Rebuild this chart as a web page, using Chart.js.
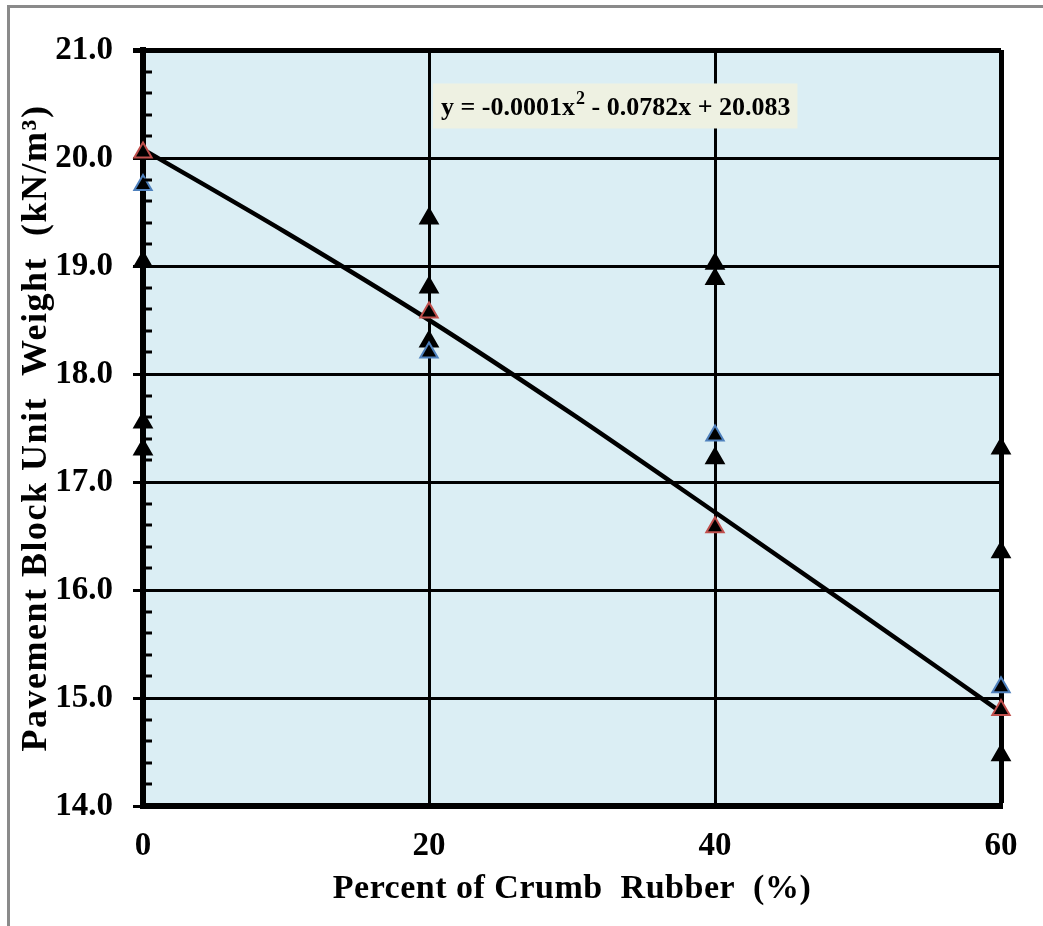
<!DOCTYPE html>
<html>
<head>
<meta charset="utf-8">
<script src="https://cdn.jsdelivr.net/npm/chart.js@4"></script>
<style>
    html, body { margin: 0; padding: 0; background: #fff; overflow: hidden; }
    #wrap { position: relative; width: 1043px; height: 926px; }
    #frame {
        position: absolute; left: 7px; top: 5px; width: 2000px; height: 2000px;
        border-left: 3px solid #8a8a8a; border-top: 3px solid #8a8a8a;
        pointer-events: none;
    }
</style>
</head>
<body>
<div id="wrap">
    <canvas id="chart" width="1043" height="926"></canvas>
    <div id="frame"></div>
</div>
<script>
// values
const blackX = [0, 0, 0, 20, 20, 20, 40, 40, 40, 60, 60, 60];
const blackY = [19.04, 17.55, 17.30, 19.44, 18.80, 18.30, 19.02, 18.88, 17.22, 17.31, 16.35, 14.47];
const blueX = [0, 20, 40, 60];
const blueY = [19.75, 18.20, 17.43, 15.10];
const redX = [0, 20, 40, 60];
const redY = [20.05, 18.57, 16.58, 14.89];
const trendX = [0, 10, 20, 30, 40, 50, 60];
const trendY = [20.08, 19.31, 18.50, 17.63, 16.72, 15.80, 14.87];
const xTicks = [0, 20, 40, 60];
const yTicks = [14, 15, 16, 17, 18, 19, 20, 21];
const equationText = ["y = -0.0001x", "2", " - 0.0782x + 20.083"];

const FONT = "'Liberation Serif', 'Times New Roman', serif";
const TITLE_SPACING = { x: "0.5px", y: "1.5px" };

const pts = (xs, ys) => xs.map((x, i) => ({ x: x, y: ys[i] }));

const plotBackground = {
    id: "plotBackground",
    beforeDraw(chart) {
        const { ctx, chartArea: a } = chart;
        ctx.save();
        ctx.fillStyle = "#dbeef4";
        ctx.fillRect(a.left, a.top, a.right - a.left, a.bottom - a.top);
        ctx.restore();

        // axis titles in the picture are spread out a little
        ["x", "y"].forEach(id => {
            const s = chart.scales[id];
            if (s._spaced) return;
            const orig = s.drawTitle;
            s.drawTitle = function () {
                this.ctx.save();
                this.ctx.letterSpacing = TITLE_SPACING[id];
                orig.call(this);
                this.ctx.restore();
            };
            s._spaced = true;
        });
    }
};

// small inside ticks on the value axis, every 0.2
const minorTicks = {
    id: "minorTicks",
    afterDraw(chart) {
        const { ctx } = chart;
        const y = chart.scales.y;
        const left = chart.chartArea.left;
        ctx.save();
        ctx.strokeStyle = "#000";
        ctx.lineWidth = 3;
        for (let k = 0; k < 35; k++) {
            if (k % 5 === 0) continue;
            const py = Math.round(y.getPixelForValue(14 + k * 0.2));
            ctx.beginPath();
            ctx.moveTo(left, py);
            ctx.lineTo(left + 9, py);
            ctx.stroke();
        }
        ctx.restore();
    }
};

const equationLabel = {
    id: "equationLabel",
    afterDatasetsDraw(chart) {
        const { ctx } = chart;
        const x0 = chart.scales.x.getPixelForValue(20) + 4;
        const y0 = chart.scales.y.getPixelForValue(20.69);
        const main = "bold 26px " + FONT;
        const sup = "bold 18px " + FONT;
        ctx.save();
        ctx.font = main;
        const w1 = ctx.measureText(equationText[0]).width;
        const w3 = ctx.measureText(equationText[2]).width;
        ctx.font = sup;
        const w2 = ctx.measureText(equationText[1]).width;
        const boxW = w1 + w2 + w3 + 16;
        ctx.fillStyle = "#eef1e2";
        ctx.fillRect(x0, y0, boxW, 45);
        ctx.fillStyle = "#000";
        ctx.textBaseline = "alphabetic";
        ctx.font = main;
        ctx.fillText(equationText[0], x0 + 8, y0 + 32);
        ctx.font = sup;
        ctx.fillText(equationText[1], x0 + 8 + w1 + 1, y0 + 21);
        ctx.font = main;
        ctx.fillText(equationText[2], x0 + 8 + w1 + w2 + 1, y0 + 32);
        ctx.restore();
    }
};

const triangle = (border, fill) => ({
    type: "scatter",
    pointStyle: "triangle",
    pointRadius: 10,
    pointHoverRadius: 10,
    borderWidth: 2,
    borderColor: border,
    backgroundColor: fill,
    clip: false
});

new Chart(document.getElementById("chart"), {
    type: "scatter",
    data: {
        datasets: [
            {
                type: "line",
                data: pts(trendX, trendY),
                borderColor: "#000",
                borderWidth: 4.5,
                pointRadius: 0,
                fill: false,
                cubicInterpolationMode: "monotone",
                clip: false,
                order: 3
            },
            Object.assign(triangle("#000", "#000"), { data: pts(blackX, blackY), order: 2 }),
            Object.assign(triangle("#4f81bd", "#000"), { data: pts(blueX, blueY), order: 1 }),
            Object.assign(triangle("#c0504d", "#000"), { data: pts(redX, redY), order: 0 })
        ]
    },
    options: {
        responsive: false,
        animation: false,
        events: [],
        layout: { padding: { left: 0, top: 50, right: 42, bottom: 0 } },
        plugins: {
            legend: { display: false },
            tooltip: { enabled: false }
        },
        scales: {
            x: {
                type: "linear",
                min: 0,
                max: 60,
                afterBuildTicks: s => { s.ticks = xTicks.map(v => ({ value: v })); },
                afterFit: s => { s.height = 120; },
                ticks: {
                    padding: 21,
                    color: "#000",
                    font: { family: FONT, size: 33, weight: "bold" }
                },
                grid: {
                    drawTicks: false,
                    color: "#000",
                    lineWidth: c => (c.tick && c.tick.value === 60 ? 5 : 3)
                },
                border: { display: true, color: "#000", width: 6 },
                title: {
                    display: true,
                    text: "Percent of Crumb  Rubber  (%)",
                    color: "#000",
                    font: { family: FONT, size: 34, weight: "bold" },
                    padding: { top: 0, bottom: 16 }
                }
            },
            y: {
                type: "linear",
                min: 14,
                max: 21,
                afterBuildTicks: s => { s.ticks = yTicks.map(v => ({ value: v })); },
                afterFit: s => { s.width = 143; },
                ticks: {
                    padding: 20,
                    color: "#000",
                    font: { family: FONT, size: 33, weight: "bold" },
                    callback: v => Number(v).toFixed(1)
                },
                grid: {
                    drawTicks: true,
                    tickLength: 10,
                    color: "#000",
                    lineWidth: c => (c.tick && c.tick.value === 21 ? 5 : 3)
                },
                border: { display: true, color: "#000", width: 6 },
                title: {
                    display: true,
                    text: "Pavement Block Unit  Weight  (kN/m³)",
                    color: "#000",
                    font: { family: FONT, size: 36, weight: "bold" },
                    padding: { top: 15, bottom: 0 }
                }
            }
        }
    },
    plugins: [plotBackground, minorTicks, equationLabel]
});
</script>
</body>
</html>
